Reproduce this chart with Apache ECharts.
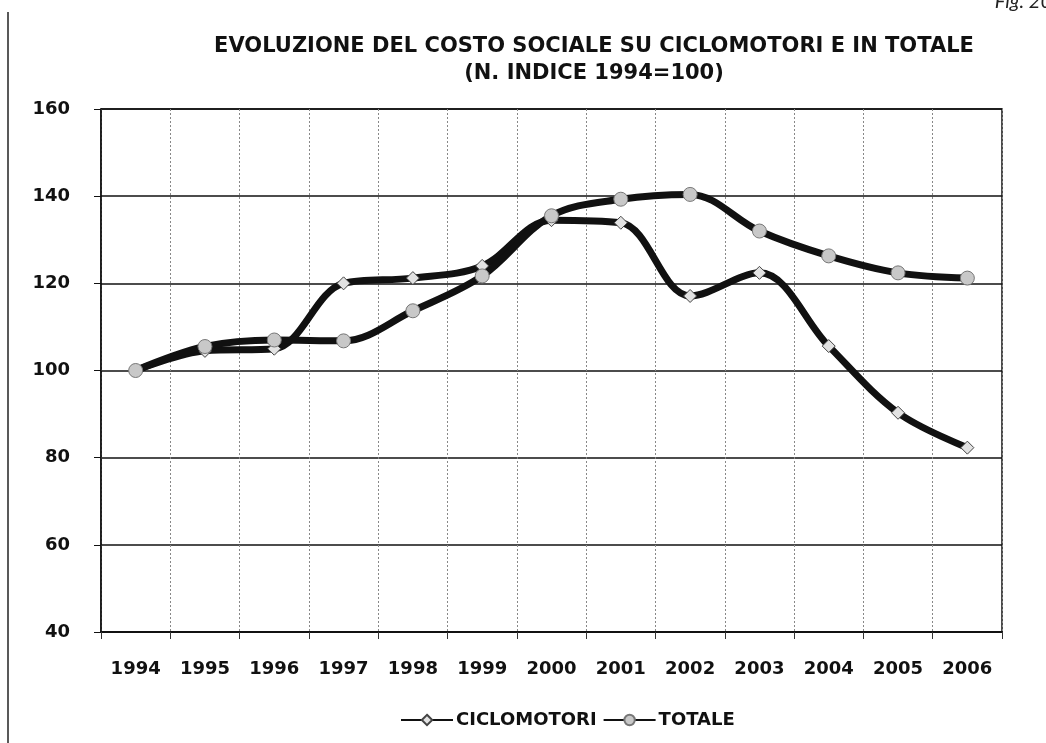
<!DOCTYPE html>
<html>
<head>
<meta charset="utf-8">
<script src="https://cdn.jsdelivr.net/npm/echarts@6/dist/echarts.min.js"></script>
<style>
    html, body { margin: 0; padding: 0; background: #fff; }
    #chart { width: 1046px; height: 743px; }
</style>
</head>
<body>
<div id="chart"></div>
<script>
    // dati
    const anni = ['1994', '1995', '1996', '1997', '1998', '1999', '2000', '2001', '2002', '2003', '2004', '2005', '2006'];
    const ciclomotori = [100, 104.5, 105, 120, 121.2, 124, 134.5, 133.9, 117.1, 122.4, 105.6, 90.3, 82.3];
    const totale = [100, 105.5, 107, 106.8, 113.7, 121.7, 135.5, 139.3, 140.4, 132, 126.3, 122.4, 121.2];
    const yTicks = [40, 60, 80, 100, 120, 140, 160];

    const myChart = echarts.init(document.getElementById('chart'));

    const option = {
        backgroundColor: '#fff',
        animation: false,
        title: {
            text: 'EVOLUZIONE DEL COSTO SOCIALE SU CICLOMOTORI E IN TOTALE\n(N. INDICE 1994=100)',
            left: 589,
            top: 28,
            textAlign: 'center',
            textStyle: {
                fontFamily: 'DejaVu Sans',
                fontWeight: 'bold',
                fontSize: 21,
                lineHeight: 27,
                color: '#111'
            }
        },
        legend: {
            top: 706,
            left: 395,
            itemWidth: 52,
            itemHeight: 13,
            itemGap: 6,
            textStyle: {
                fontFamily: 'DejaVu Sans',
                fontWeight: 'bold',
                fontSize: 18,
                color: '#111',
                padding: [0, 0, 0, -2]
            },
            data: ['CICLOMOTORI', 'TOTALE']
        },
        grid: {
            left: 101,
            right: 44,
            top: 109,
            bottom: 111,
            show: true,
            borderColor: '#111',
            borderWidth: 1.5
        },
        xAxis: {
            type: 'category',
            data: anni,
            boundaryGap: true,
            axisLine: { lineStyle: { color: '#111', width: 2 } },
            axisTick: { show: true, length: 7, lineStyle: { color: '#333' } },
            axisLabel: {
                margin: 28,
                fontFamily: 'DejaVu Sans',
                fontWeight: 'bold',
                fontSize: 18,
                color: '#111'
            },
            splitLine: {
                show: true,
                lineStyle: { color: '#888', type: [2, 2], width: 1 }
            }
        },
        yAxis: {
            type: 'value',
            min: yTicks[0],
            max: yTicks[yTicks.length - 1],
            interval: 20,
            axisLine: { show: true, lineStyle: { color: '#111', width: 1.5 } },
            axisTick: { show: true, length: 7, lineStyle: { color: '#111' } },
            axisLabel: {
                margin: 31,
                fontFamily: 'DejaVu Sans',
                fontWeight: 'bold',
                fontSize: 18,
                color: '#111'
            },
            splitLine: { lineStyle: { color: '#111', width: 1.5 } }
        },
        series: [
            {
                name: 'CICLOMOTORI',
                type: 'line',
                data: ciclomotori,
                smooth: 0.35,
                symbol: 'diamond',
                symbolSize: 13,
                lineStyle: { color: '#111', width: 7 },
                itemStyle: { color: '#e2e2e2', borderColor: '#444', borderWidth: 1 },
                z: 3
            },
            {
                name: 'TOTALE',
                type: 'line',
                data: totale,
                smooth: 0.35,
                symbol: 'circle',
                symbolSize: 14,
                lineStyle: { color: '#111', width: 7 },
                itemStyle: { color: '#c8c8c8', borderColor: '#777', borderWidth: 1 },
                z: 4
            }
        ],
        graphic: [
            {
                type: 'line',
                shape: { x1: 8, y1: 12, x2: 8, y2: 743 },
                style: { stroke: '#222', lineWidth: 1.5 }
            },
            {
                type: 'text',
                right: -6,
                top: -8,
                style: {
                    text: 'Fig. 20',
                    font: 'italic 20px Lato',
                    fill: '#222'
                }
            }
        ]
    };
    myChart.setOption(option);
</script>
</body>
</html>
